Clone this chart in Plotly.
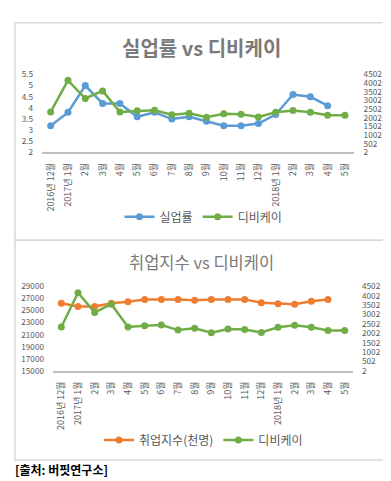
import plotly.graph_objects as go

W, H = 391, 481

categories = ["2016년 12월", "2017년 1월", "2017년 2월", "2017년 3월", "2017년 4월", "2017년 5월",
              "2017년 6월", "2017년 7월", "2017년 8월", "2017년 9월", "2017년 10월", "2017년 11월",
              "2017년 12월", "2018년 1월", "2018년 2월", "2018년 3월", "2018년 4월", "2018년 5월"]
tick_labels = ["2016년 12월", "2017년 1월", "2월", "3월", "4월", "5월", "6월", "7월", "8월", "9월",
               "10월", "11월", "12월", "2018년 1월", "2월", "3월", "4월", "5월"]

unemployment = [3.2, 3.8, 5.0, 4.2, 4.2, 3.6, 3.8, 3.5, 3.6, 3.4, 3.2, 3.2, 3.3, 3.7, 4.6, 4.5, 4.1, None]
dbk = [2340, 4165, 3115, 3555, 2340, 2410, 2440, 2175, 2270, 2035, 2230, 2205, 2050, 2320, 2430, 2320, 2150, 2150]
employment = [26190, 25660, 25660, 26190, 26470, 26840, 26840, 26840, 26680, 26840, 26840, 26840,
              26300, 26140, 26030, 26520, 26840, None]

right_ticks = [2, 502, 1002, 1502, 2002, 2502, 3002, 3502, 4002, 4502]

BLUE = "#5B9BD5"
GREEN = "#70AD47"
ORANGE = "#ED7D31"
TXT = "#595959"
FONT = "Noto Sans CJK KR"


def px(x):
    return x / W


def py(y):
    return 1 - y / H


fig = go.Figure()

fig.add_trace(go.Scatter(x=categories, y=unemployment, name="실업률", mode="lines+markers",
                         line=dict(color=BLUE, width=2.5), marker=dict(size=7, color=BLUE),
                         xaxis="x", yaxis="y", legend="legend"))
fig.add_trace(go.Scatter(x=categories, y=dbk, name="디비케이", mode="lines+markers",
                         line=dict(color=GREEN, width=2.5), marker=dict(size=7, color=GREEN),
                         xaxis="x", yaxis="y2", legend="legend"))
fig.add_trace(go.Scatter(x=categories, y=employment, name="취업지수(천명)", mode="lines+markers",
                         line=dict(color=ORANGE, width=2.5), marker=dict(size=7, color=ORANGE),
                         xaxis="x2", yaxis="y3", legend="legend2"))
fig.add_trace(go.Scatter(x=categories, y=dbk, name="디비케이", mode="lines+markers",
                         line=dict(color=GREEN, width=2.5), marker=dict(size=7, color=GREEN),
                         xaxis="x2", yaxis="y4", legend="legend2"))

xcommon = dict(type="category", categoryorder="array", categoryarray=categories,
               range=[-0.5, len(categories) - 0.5], tickmode="array", tickvals=categories,
               ticktext=tick_labels, tickangle=-90, tickfont=dict(size=9, color=TXT, family=FONT),
               showgrid=False, zeroline=False, showline=True, linecolor="#BFBFBF", linewidth=2,
               ticks="", ticklabelstandoff=5, fixedrange=True)
ycommon = dict(showgrid=False, zeroline=False, showline=False, ticks="",
               tickfont=dict(size=8.2, color=TXT, family=FONT), fixedrange=True)

fig.update_layout(
    width=W, height=H, autosize=False,
    margin=dict(l=0, r=0, t=0, b=0),
    paper_bgcolor="white", plot_bgcolor="white",
    font=dict(family=FONT, color=TXT),
    xaxis=dict(domain=[px(34), px(345.6)], anchor="y", **xcommon),
    yaxis=dict(domain=[py(141), py(61)], range=[2, 5.5], dtick=0.5, tick0=2,
               anchor="x", ticklabelstandoff=8, **ycommon),
    yaxis2=dict(overlaying="y", side="right", range=[2, 4502], tickmode="array",
                tickvals=right_ticks, anchor="x", ticklabelstandoff=9, **ycommon),
    xaxis2=dict(domain=[px(45), px(345)], anchor="y3", **xcommon),
    yaxis3=dict(domain=[py(365), py(278.3)], range=[15000, 29000], dtick=2000, tick0=15000,
                tickformat="d", anchor="x2", ticklabelstandoff=8, **ycommon),
    yaxis4=dict(overlaying="y3", side="right", range=[2, 4502], tickmode="array",
                tickvals=right_ticks, anchor="x2", ticklabelstandoff=8, **ycommon),
    legend=dict(orientation="h", x=0.5, xanchor="center", y=py(207), yanchor="middle",
                font=dict(size=12, color=TXT, family=FONT), itemwidth=30,
                bgcolor="rgba(0,0,0,0)"),
    legend2=dict(orientation="h", x=0.5, xanchor="center", y=py(436), yanchor="middle",
                 font=dict(size=12, color=TXT, family=FONT), itemwidth=30,
                 bgcolor="rgba(0,0,0,0)"),
    showlegend=True,
)

fig.add_annotation(text="<b>실업률 vs 디비케이</b>", x=px(193), y=py(33), xref="paper", yref="paper",
                   showarrow=False, font=dict(size=20, color="#7A7A7A", family=FONT),
                   xanchor="center", yanchor="middle")
fig.add_annotation(text="취업지수 vs 디비케이", x=px(193), y=py(253), xref="paper", yref="paper",
                   showarrow=False, font=dict(size=16.5, color="#7A7A7A", family=FONT),
                   xanchor="center", yanchor="middle")
fig.add_annotation(text="<b>[출처: 버핏연구소]</b>", x=px(5), y=py(466), xref="paper", yref="paper",
                   showarrow=False, font=dict(size=12, color="#000000", family=FONT),
                   xanchor="left", yanchor="middle")

# chart borders
fig.add_shape(type="rect", xref="paper", yref="paper", x0=px(7), x1=px(381), y0=py(231), y1=py(8),
              line=dict(color="#D9D9D9", width=1.5), fillcolor="rgba(0,0,0,0)", layer="below")
fig.add_shape(type="rect", xref="paper", yref="paper", x0=px(7), x1=px(381), y0=py(456.5), y1=py(231),
              line=dict(color="#D9D9D9", width=1.5), fillcolor="rgba(0,0,0,0)", layer="below")

fig.write_html("out.html")
